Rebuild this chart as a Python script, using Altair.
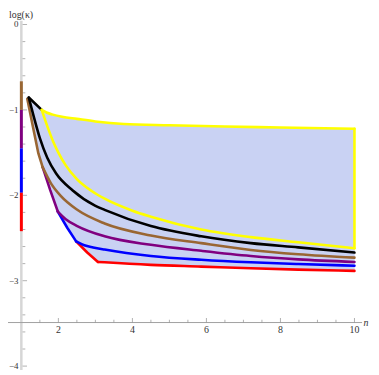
import altair as alt
import pandas as pd

# ---------------- data ----------------
# yellow closed region
yel_top_x = [1.55, 1.68, 1.85, 2.1, 2.5, 3.0, 3.77, 5.0, 6.5, 8.0, 10.0]
yel_top_y = [-1.00, -1.03, -1.055, -1.08, -1.105, -1.135, -1.165, -1.18, -1.195, -1.205, -1.22]
yel_bot_x = [1.55, 1.7, 1.85, 2.0, 2.2, 2.5, 2.9, 3.25, 4.0, 4.5, 5.86, 7.2, 8.48, 10.0]
yel_bot_y = [-1.00, -1.19, -1.36, -1.50, -1.65, -1.81, -1.95, -2.04, -2.18, -2.25, -2.40, -2.49, -2.55, -2.62]

# black curve (edge from yellow corner to peak, then the curve)
blk_edge_x = [1.55, 1.20]
blk_edge_y = [-1.00, -0.855]
blk_x = [1.20, 1.33, 1.50, 1.70, 1.94, 2.38, 2.99, 3.25, 4.5, 5.86, 7.2, 8.48, 10.0]
blk_y = [-0.855, -1.07, -1.33, -1.56, -1.745, -1.94, -2.12, -2.17, -2.36, -2.48, -2.56, -2.61, -2.67]

# brown
brn_left_x = [1.16, 1.31, 1.46, 1.575]
brn_left_y = [-0.87, -1.19, -1.51, -1.67]
brn_x = [1.575, 1.8, 2.07, 2.51, 3.25, 4.5, 5.86, 7.2, 8.48, 10.0]
brn_y = [-1.67, -1.86, -2.01, -2.17, -2.33, -2.47, -2.56, -2.64, -2.69, -2.73]

# purple
pur_left_x = [1.575, 1.78, 1.985]
pur_left_y = [-1.67, -1.94, -2.19]
pur_x = [1.985, 2.2, 2.51, 3.25, 4.5, 5.86, 7.2, 8.48, 10.0]
pur_y = [-2.19, -2.28, -2.36, -2.48, -2.58, -2.65, -2.71, -2.75, -2.78]

# blue
blu_left_x = [1.985, 2.24, 2.48]
blu_left_y = [-2.19, -2.38, -2.54]
blu_x = [2.48, 2.7, 2.94, 3.25, 4.5, 5.86, 7.2, 8.48, 10.0]
blu_y = [-2.54, -2.585, -2.61, -2.635, -2.71, -2.755, -2.785, -2.805, -2.825]

# red
red_left_x = [2.48, 2.78, 3.07]
red_left_y = [-2.54, -2.67, -2.78]
red_x = [3.07, 3.25, 4.5, 5.86, 7.2, 8.48, 10.0]
red_y = [-2.78, -2.785, -2.815, -2.835, -2.855, -2.87, -2.885]

# coloured segments on the y axis (at n = 1)
seg_top = [-0.665, -1.0, -1.45, -1.97]
seg_bot = [-1.0, -1.45, -1.97, -2.42]
seg_col = ["#996633", "#800080", "#0000ff", "#ff0000"]

# axes
x_major = [2, 4, 6, 8, 10]
x_labels = ["2", "4", "6", "8", "10"]
x_minor = [1.5, 2.5, 3, 3.5, 4.5, 5, 5.5, 6.5, 7, 7.5, 8.5, 9, 9.5]
y_major = [0, -1, -2, -3, -4]
y_labels = ["0", "\u22121", "\u22122", "\u22123", "\u22124"]
y_minor = [-0.2, -0.4, -0.6, -0.8, -1.2, -1.4, -1.6, -1.8, -2.2, -2.4, -2.6, -2.8,
           -3.2, -3.4, -3.6, -3.8]
x_axis_at = -3.49
y_axis_at = 1.0

# ---------------- layout ----------------
W, H = 367, 364
X_DOMAIN = [0.6392, 10.4468]
Y_DOMAIN = [-4.046, 0.1703]
FILL = "#c9d2f3"
LW = 2.6
FONT = "Times New Roman, Liberation Serif, serif"

xs = alt.Scale(domain=X_DOMAIN, nice=False, zero=False)
ys = alt.Scale(domain=Y_DOMAIN, nice=False, zero=False)
X = alt.X("x:Q", scale=xs, axis=None)
Y = alt.Y("y:Q", scale=ys, axis=None)


def frame(xv, yv):
    return pd.DataFrame({"x": xv, "y": yv, "i": list(range(len(xv)))})


def line(xv, yv, color, width=LW, interp="linear"):
    return alt.Chart(frame(xv, yv)).mark_line(
        color=color, strokeWidth=width, interpolate=interp,
        strokeCap="round", strokeJoin="round"
    ).encode(x=X, y=Y, order="i:Q")


# fill polygon (envelope of the family)
poly_x = ([brn_left_x[0]] + blk_edge_x[::-1] + yel_top_x[1:] + red_x[::-1]
          + red_left_x[::-1][1:] + blu_left_x[::-1][1:] + pur_left_x[::-1][1:]
          + brn_left_x[::-1][1:])
poly_y = ([brn_left_y[0]] + blk_edge_y[::-1] + yel_top_y[1:] + red_y[::-1]
          + red_left_y[::-1][1:] + blu_left_y[::-1][1:] + pur_left_y[::-1][1:]
          + brn_left_y[::-1][1:])
fill = alt.Chart(frame(poly_x, poly_y)).mark_line(
    fill=FILL, stroke=FILL, strokeWidth=0.5, interpolate="linear"
).encode(x=X, y=Y, order="i:Q")

# axes lines
y_axis = alt.Chart(pd.DataFrame({"x": [y_axis_at], "y": [Y_DOMAIN[0]], "y2": [0.043]})).mark_rule(
    color="#d6d6d6", strokeWidth=2.5
).encode(x=X, y=Y, y2="y2:Q")
x_axis = alt.Chart(pd.DataFrame({"x": [X_DOMAIN[0]], "x2": [10.206], "y": [x_axis_at]})).mark_rule(
    color="#a0a0a0", strokeWidth=1
).encode(x=X, x2="x2:Q", y=Y)

# ticks
xt_major = alt.Chart(pd.DataFrame({"x": x_major, "y": [x_axis_at] * len(x_major)})).mark_tick(
    orient="vertical", size=4.5, thickness=1, yOffset=-2.25, color="#909090"
).encode(x=X, y=Y)
xt_minor = alt.Chart(pd.DataFrame({"x": x_minor, "y": [x_axis_at] * len(x_minor)})).mark_tick(
    orient="vertical", size=2.8, thickness=1, yOffset=-1.4, color="#909090"
).encode(x=X, y=Y)
yt_major = alt.Chart(pd.DataFrame({"x": [y_axis_at] * len(y_major), "y": y_major})).mark_tick(
    orient="horizontal", size=4.5, thickness=1, xOffset=3.5, color="#909090"
).encode(x=X, y=Y)
yt_minor = alt.Chart(pd.DataFrame({"x": [y_axis_at] * len(y_minor), "y": y_minor})).mark_tick(
    orient="horizontal", size=2.8, thickness=1, xOffset=2.6, color="#909090"
).encode(x=X, y=Y)

# tick labels
xl = alt.Chart(pd.DataFrame({"x": x_major, "y": [x_axis_at] * 5, "t": x_labels})).mark_text(
    font=FONT, fontSize=10, baseline="top", align="center", dy=3, color="#333333"
).encode(x=X, y=Y, text="t:N")
yl = alt.Chart(pd.DataFrame({"x": [y_axis_at] * 5, "y": y_major, "t": y_labels})).mark_text(
    font=FONT, fontSize=9, baseline="middle", align="right", dx=-3, color="#333333"
).encode(x=X, y=Y, text="t:N")
n_lab = alt.Chart(pd.DataFrame({"x": [10.31], "y": [x_axis_at], "t": ["n"]})).mark_text(
    font=FONT, fontSize=10, fontStyle="italic", baseline="middle", align="center", color="#333333"
).encode(x=X, y=Y, text="t:N")
k_lab = alt.Chart(pd.DataFrame({"x": [X_DOMAIN[0]], "y": [Y_DOMAIN[1]], "t": ["log(\u03ba)"]})).mark_text(
    font=FONT, fontSize=10, baseline="top", align="left", dx=1, dy=0, color="#333333"
).encode(x=X, y=Y, text="t:N")

# coloured axis segments
segs = alt.Chart(pd.DataFrame({"x": [y_axis_at] * 4, "y": seg_top, "y2": seg_bot, "c": seg_col})).mark_rule(
    strokeWidth=3
).encode(x=X, y=Y, y2="y2:Q", color=alt.Color("c:N", scale=None))

layers = [
    fill, y_axis, x_axis, xt_major, xt_minor, yt_major, yt_minor, xl, yl, n_lab, k_lab, segs,
    line(red_left_x, red_left_y, "#ff0000"), line(red_x, red_y, "#ff0000", interp="monotone"),
    line(blu_left_x, blu_left_y, "#0000ff"), line(blu_x, blu_y, "#0000ff", interp="monotone"),
    line(pur_left_x, pur_left_y, "#800080"), line(pur_x, pur_y, "#800080", interp="monotone"),
    line(brn_left_x, brn_left_y, "#996633"), line(brn_x, brn_y, "#996633", interp="monotone"),
    line(blk_edge_x, blk_edge_y, "#000000"), line(blk_x, blk_y, "#000000", interp="monotone"),
    line(yel_top_x, yel_top_y, "#ffff00", interp="monotone"),
    line(yel_bot_x, yel_bot_y, "#ffff00", interp="monotone"),
    line([10.0, 10.0], [yel_top_y[-1], yel_bot_y[-1]], "#ffff00"),
]

chart = alt.layer(*layers).properties(
    width=W, height=H, padding=0, autosize=alt.AutoSizeParams(type="none")
).configure_view(stroke=None)

chart.save("out.html", embed_options={"renderer": "svg", "actions": False})
